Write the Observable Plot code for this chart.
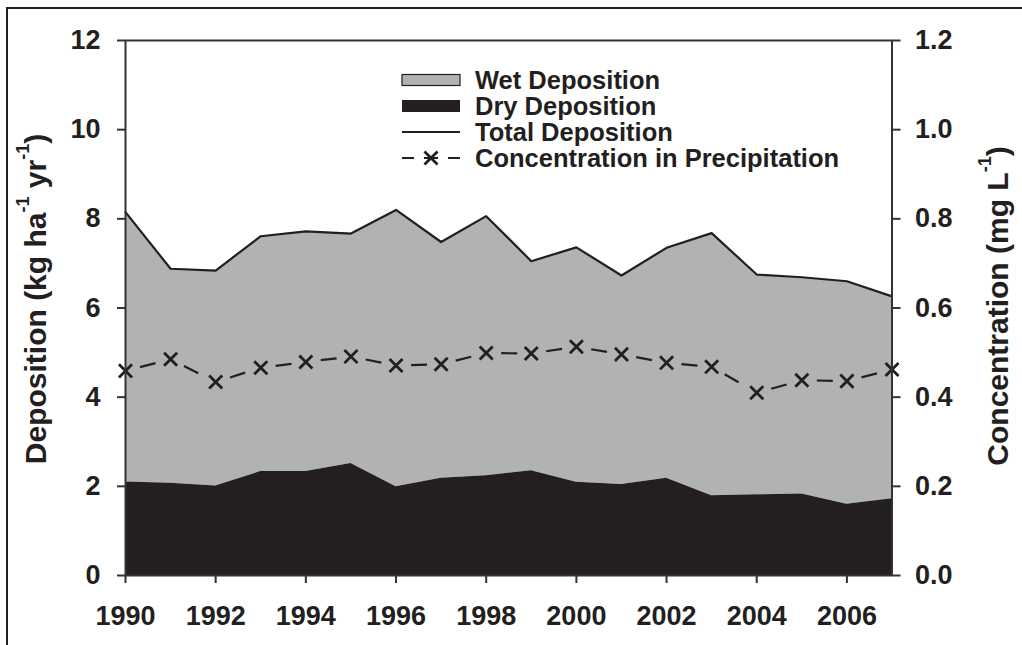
<!DOCTYPE html>
<html><head><meta charset="utf-8">
<script src="https://cdn.jsdelivr.net/npm/d3@7"></script>
<script src="https://cdn.jsdelivr.net/npm/@observablehq/plot@0.6"></script>
<style>
body{margin:0;background:#fff;}
#wrap{position:relative;width:1022px;height:645px;overflow:hidden;font-family:"Liberation Sans",Arial,sans-serif;}
#border{position:absolute;left:6px;top:7px;width:1100px;height:700px;border-left:2.5px solid #231f20;border-top:2.5px solid #231f20;}
#legend{position:absolute;left:0;top:0;pointer-events:none;}
</style></head><body><div id="wrap"><div id="border"></div></div>
<script>
const years = [1990,1991,1992,1993,1994,1995,1996,1997,1998,1999,2000,2001,2002,2003,2004,2005,2006,2007];
const totalDep = [8.15,6.88,6.84,7.61,7.72,7.67,8.20,7.48,8.06,7.05,7.36,6.73,7.35,7.68,6.75,6.69,6.60,6.26];
const dryDep = [2.10,2.07,2.01,2.33,2.33,2.51,1.99,2.18,2.24,2.35,2.09,2.04,2.18,1.79,1.81,1.83,1.60,1.72];
const concentration = [0.459,0.485,0.434,0.466,0.479,0.491,0.471,0.474,0.499,0.498,0.513,0.496,0.477,0.468,0.410,0.438,0.436,0.462];
const xTicks = [1990,1992,1994,1996,1998,2000,2002,2004,2006];
const depTicks = [0,2,4,6,8,10,12];
const concTicks = [0.0,0.2,0.4,0.6,0.8,1.0,1.2];
const concFactor = 10; // 1.2 mg/L aligns with 12 kg/ha/yr
const legendItems = ["Wet Deposition","Dry Deposition","Total Deposition","Concentration in Precipitation"];

const rows = years.map((y,i)=>({year:y,total:totalDep[i],dry:dryDep[i],conc:concentration[i]*concFactor}));
const segs = rows.slice(1).map((r,i)=>({x1:rows[i].year,y1:rows[i].conc,x2:r.year,y2:r.conc}));
const dark = "#231f20", gray = "#b1b2b4";

const plot = Plot.plot({
  width:1022, height:645,
  marginLeft:125, marginRight:130.5, marginTop:40, marginBottom:70,
  style:{fontFamily:"'Liberation Sans',Arial,sans-serif", fontSize:"27px", fontWeight:"bold", color:dark, background:"transparent"},
  x:{domain:[1990,2007]},
  y:{domain:[0,12]},
  marks:[
    Plot.areaY(rows,{x:"year",y1:"dry",y2:"total",fill:gray}),
    Plot.areaY(rows,{x:"year",y1:0,y2:"dry",fill:dark}),
    Plot.lineY(rows,{x:"year",y:"total",stroke:dark,strokeWidth:2.2}),
    Plot.link(segs,{x1:"x1",y1:"y1",x2:"x2",y2:"y2",stroke:dark,strokeWidth:2.2,strokeDasharray:"0,15,16,100"}),
    Plot.dot(rows,{x:"year",y:"conc",symbol:"times",r:6,stroke:dark,strokeWidth:2.8}),
    Plot.frame({stroke:"#333",strokeWidth:2}),
    Plot.axisX(xTicks,{tickFormat:d=>String(d),tickSize:8,tickPadding:22,stroke:"#333",strokeWidth:2,fill:dark,label:null}),
    Plot.axisY(depTicks,{anchor:"left",tickFormat:d=>String(d),tickSize:8,tickPadding:17,stroke:"#333",strokeWidth:2,fill:dark,label:null}),
    Plot.axisY(concTicks.map(c=>c*concFactor),{anchor:"right",tickFormat:d=>(d/concFactor).toFixed(1),tickSize:8,tickPadding:15,stroke:"#333",strokeWidth:2,fill:dark,label:null})
  ]
});
document.getElementById("wrap").appendChild(plot);

const svg = d3.select(plot);
function title(x,y,parts){
  const t = svg.append("text").attr("transform",`translate(${x},${y}) rotate(-90)`)
    .attr("text-anchor","middle").attr("dominant-baseline","central")
    .attr("font-size","30px").attr("font-weight","bold").attr("fill",dark);
  parts.forEach(p=>{
    if(p.sup){ t.append("tspan").attr("dy",-12).attr("font-size","18px").text(p.text); }
    else { t.append("tspan").attr("dy",p.after?12:0).text(p.text); }
  });
}
title(35,299,[{text:"Deposition (kg ha"},{text:"-1",sup:true},{text:" yr",after:true},{text:"-1",sup:true},{text:")",after:true}]);
title(997,306,[{text:"Concentration (mg L"},{text:"-1",sup:true},{text:")",after:true}]);

// legend
const lg = d3.select("#wrap").append("svg").attr("id","legend").attr("width",1022).attr("height",645);
const rowY = [80,106,132,158];
legendItems.forEach((name,i)=>{
  const g = lg.append("g").attr("transform",`translate(402,${rowY[i]})`);
  if(i===0) g.append("rect").attr("x",0).attr("y",-5.5).attr("width",58).attr("height",11).attr("fill",gray).attr("stroke",dark).attr("stroke-width",1.2);
  if(i===1) g.append("rect").attr("x",0).attr("y",-6).attr("width",58).attr("height",12).attr("fill",dark);
  if(i===2) g.append("line").attr("x1",0).attr("x2",58).attr("stroke",dark).attr("stroke-width",2);
  if(i===3){
    g.append("line").attr("x1",0).attr("x2",12).attr("stroke",dark).attr("stroke-width",2);
    g.append("line").attr("x1",46).attr("x2",58).attr("stroke",dark).attr("stroke-width",2);
    g.append("path").attr("d",d3.symbol(d3.symbolTimes,113)()).attr("transform","translate(29,0)").attr("fill","none").attr("stroke",dark).attr("stroke-width",2.8);
    g.append("line").attr("x1",22).attr("x2",36).attr("stroke",dark).attr("stroke-width",2);
  }
  g.append("text").attr("x",73).attr("y",0).attr("dominant-baseline","central")
    .attr("font-size","25.5px").attr("font-weight","bold").attr("fill",dark)
    .attr("font-family","'Liberation Sans',Arial,sans-serif").text(name);
});
</script></body></html>
